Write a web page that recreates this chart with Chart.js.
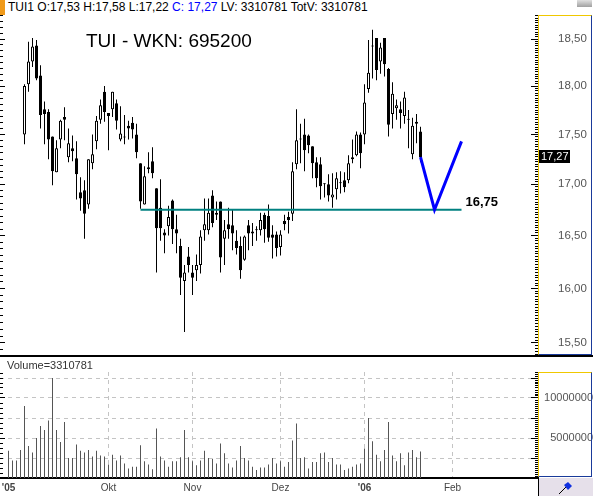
<!DOCTYPE html>
<html>
<head>
<meta charset="utf-8">
<script src="https://cdn.jsdelivr.net/npm/chart.js@4.4.0/dist/chart.umd.min.js"></script>
<style>
  body { margin: 0; background: #fff; font-family: "Liberation Sans", Arial, sans-serif; }
  #wrap { position: relative; width: 593px; height: 496px; overflow: hidden; background: #fff; }
  .abs { position: absolute; }
  #hdr { left: 0; top: 0; height: 15px; font-size: 12px; line-height: 14px; white-space: nowrap; color: #000; }
  #hdr .tag { display: inline-block; width: 5px; height: 15px; background: #f09a1a; vertical-align: top; margin-right: 3px; }
  #hdr .c { color: #0000ff; }
  #title { left: 86px; top: 31px; font-size: 19px; line-height: 19px; color: #000; white-space: nowrap; }
  #sep { left: 0; top: 355px; width: 593px; height: 2px; background: #000; }
  #volLbl { left: 7px; top: 359px; font-size: 11px; line-height: 12px; color: #333; }
  .box { border-left: 1px solid #f0c800; border-top: 1px solid #f0c800; border-right: 1px solid #1a3a9a; border-bottom: 1px solid #1a3a9a; }
  #pbox { left: 538px; top: 15px; width: 52px; height: 338px; }
  #vbox { left: 538px; top: 372px; width: 52px; height: 103px; }
  #corner { left: 538px; top: 478px; width: 54px; height: 18px; background: #e6e0ea; border-left: 1px solid #000; }
  #btn { left: 577px; top: 0; width: 15px; height: 7px; background: linear-gradient(#e0e0e0, #a0a0a0); }
</style>
</head>
<body>
<div id="wrap">
  <div id="hdr" class="abs"><span class="tag"></span><span id="hdrText"></span></div>
  <div id="btn" class="abs"></div>
  <canvas id="price" class="abs" width="593" height="340" style="left:0;top:15px"></canvas>
  <div id="title" class="abs">TUI - WKN: 695200</div>
  <div id="sep" class="abs"></div>
  <canvas id="vol" class="abs" width="593" height="139" style="left:0;top:357px"></canvas>
  <div id="volLbl" class="abs"></div>
  <div id="pbox" class="abs box"></div>
  <div id="vbox" class="abs box"></div>
  <div id="corner" class="abs">
    <svg width="54" height="18"><line x1="20" y1="16" x2="28" y2="8" stroke="#000" stroke-width="1"/><path d="M25 7 L29 4 L33 8 L29 12 Z" fill="#1030e0"/></svg>
  </div>
</div>
<script>
// trading day index of first candle (index 0 = first volume bar)
const startIdx = 4;

const opens = [17.50, 18.02, 18.26, 18.43, 18.11, 17.76, 17.73, 17.48, 17.12, 17.45,
  17.68, 17.27, 17.36, 17.26, 16.92, 16.94, 16.80, 17.21, 17.43, 17.65,
  17.94, 17.72, 17.76, 17.82, 17.45, 17.47, 17.59, 17.62, 17.50, 17.21,
  16.80, 17.17, 17.23, 16.96, 16.77, 16.53, 16.59, 16.84, 16.56, 16.40,
  16.07, 16.30, 16.15, 16.17, 16.22, 16.55, 16.55, 16.89, 16.72, 16.83,
  16.47, 16.61, 16.60, 16.45, 16.40, 16.27, 16.60, 16.54, 16.55, 16.55,
  16.70, 16.69, 16.51, 16.51, 16.39, 16.64, 16.68, 16.71, 17.20, 17.45,
  17.50, 17.49, 17.38, 17.22, 17.20, 17.00, 17.00, 16.87, 16.95, 17.01,
  17.04, 17.04, 17.27, 17.29, 17.50, 17.50, 17.97, 18.43, 18.51, 18.26,
  18.51, 18.18, 17.71, 17.77, 17.76, 17.69, 17.66, 17.30, 17.63, 17.53];
const highs = [18.02, 18.47, 18.51, 18.49, 18.22, 17.84, 17.76, 17.48, 17.44, 17.65,
  17.78, 17.56, 17.49, 17.43, 17.07, 17.04, 17.25, 17.50, 17.69, 17.86,
  18.00, 17.72, 17.94, 17.86, 17.79, 17.70, 17.64, 17.68, 17.61, 17.21,
  17.18, 17.32, 17.37, 16.96, 17.05, 16.56, 16.79, 16.85, 16.70, 16.47,
  16.22, 16.39, 16.22, 16.32, 16.55, 16.86, 16.86, 16.94, 16.83, 16.83,
  16.65, 16.77, 16.75, 16.55, 16.49, 16.50, 16.65, 16.62, 16.59, 16.72,
  16.72, 16.80, 16.60, 16.54, 16.55, 16.70, 16.73, 17.22, 17.76, 17.61,
  17.66, 17.50, 17.38, 17.27, 17.27, 17.01, 17.10, 17.11, 17.12, 17.13,
  17.12, 17.29, 17.45, 17.53, 17.52, 18.02, 18.49, 18.60, 18.51, 18.46,
  18.51, 18.19, 18.04, 17.86, 17.84, 17.94, 17.75, 17.67, 17.71, 17.58];
const lows = [17.40, 17.94, 18.20, 18.06, 17.56, 17.40, 17.25, 16.99, 17.12, 17.36,
  17.44, 17.22, 17.23, 16.85, 16.74, 16.47, 16.76, 17.15, 17.35, 17.61,
  17.63, 17.34, 17.68, 17.55, 17.43, 17.40, 17.45, 17.46, 17.26, 16.76,
  16.80, 17.11, 17.06, 16.15, 16.45, 16.33, 16.50, 16.42, 16.33, 15.94,
  15.60, 16.15, 15.94, 16.07, 16.14, 16.45, 16.51, 16.58, 16.65, 16.15,
  16.22, 16.47, 16.36, 16.32, 16.09, 16.26, 16.36, 16.40, 16.45, 16.50,
  16.43, 16.44, 16.28, 16.30, 16.31, 16.55, 16.52, 16.64, 17.15, 17.21,
  17.13, 17.31, 17.06, 16.97, 16.85, 16.87, 16.83, 16.77, 16.85, 16.91,
  16.92, 17.01, 17.21, 17.28, 17.16, 17.40, 17.93, 18.08, 18.06, 18.13,
  18.10, 17.48, 17.56, 17.65, 17.56, 17.61, 17.36, 17.25, 17.41, 17.22];
const closes = [18.00, 18.26, 18.42, 18.08, 17.70, 17.71, 17.45, 17.13, 17.36, 17.64,
  17.65, 17.41, 17.33, 17.10, 16.86, 16.71, 17.25, 17.30, 17.64, 17.80,
  17.73, 17.69, 17.94, 17.64, 17.51, 17.47, 17.56, 17.55, 17.32, 16.83,
  17.08, 17.15, 17.11, 16.57, 16.57, 16.50, 16.68, 16.56, 16.52, 16.10,
  16.15, 16.22, 16.10, 16.22, 16.49, 16.61, 16.72, 16.62, 16.70, 16.29,
  16.55, 16.56, 16.52, 16.38, 16.17, 16.49, 16.52, 16.52, 16.56, 16.65,
  16.56, 16.48, 16.48, 16.38, 16.51, 16.61, 16.65, 17.13, 17.44, 17.45,
  17.34, 17.39, 17.21, 17.06, 16.98, 17.00, 16.89, 16.90, 17.06, 17.01,
  16.97, 17.21, 17.25, 17.50, 17.31, 17.83, 18.14, 18.42, 18.17, 18.41,
  18.23, 17.60, 17.92, 17.80, 17.72, 17.88, 17.65, 17.59, 17.61, 17.27];

const volumes = [3400000, 2200000, 2200000, 3500000, 9000000, 4000000, 3200000, 5000000, 6500000, 6000000,
  7200000, 12500000, 6000000, 4500000, 7000000, 2500000, 2500000, 4200000, 3400000, 3200000,
  3500000, 2700000, 3400000, 2800000, 2700000, 1700000, 2900000, 2200000, 2800000, 1800000,
  1200000, 1400000, 1400000, 4100000, 2100000, 1700000, 1100000, 6200000, 2700000, 2200000,
  1400000, 2100000, 2100000, 2600000, 6000000, 2600000, 2100000, 1600000, 2200000, 3400000,
  2500000, 2400000, 1800000, 4300000, 3100000, 1800000, 1300000, 2200000, 4000000, 2500000,
  2200000, 1400000, 1000000, 1300000, 1300000, 1700000, 2500000, 1800000, 2100000, 1400000,
  2000000, 4700000, 6800000, 2500000, 2600000, 1200000, 2000000, 2000000, 3100000, 3200000,
  2000000, 2500000, 1700000, 1700000, 1000000, 1200000, 1400000, 1700000, 1800000, 3700000,
  7500000, 4600000, 2900000, 2100000, 3500000, 7000000, 2800000, 2100000, 3100000, 1600000,
  3200000, 3500000, 2600000, 3310781];

const monthIdx = [0, 25, 46, 68, 89, 111];
const monthLabels = ["'05", "Okt", "Nov", "Dez", "'06", "Feb"];
const priceTicks = [15.5, 16, 16.5, 17, 17.5, 18, 18.5];
const volTicks = [2500000, 5000000, 7500000, 10000000, 12500000];
const volLabelTicks = [5000000, 10000000];

// drawn support line and projected V
const supportLevel = 16.75;
const supportFrom = 33;
const projX = [103, 106.5, 113.25];
const projY = [17.27, 16.75, 17.43];

// axis ranges (4 px per trading day, log price scale)
const xMin = -2.125, xMax = 132.375;
const pMin = 15.3918, pMax = 18.7603;
const vMax = 13250000;

function fmt(v) { return v.toFixed(2).replace('.', ','); }

function steps(from, to, step) {
  var out = [];
  for (var v = from; v <= to + 1e-9; v += step) out.push(+v.toFixed(4));
  return out;
}

function fitTo(size) {
  return function(scale) {
    if (scale.isHorizontal()) scale.height = size; else scale.width = size;
    scale.paddingTop = 0; scale.paddingBottom = 0;
    scale.paddingLeft = 0; scale.paddingRight = 0;
  };
}

function tickAxis(type, pos, weight, min, max, values, len) {
  return {
    type: type, position: pos, weight: weight, min: min, max: max, bounds: 'data',
    afterBuildTicks: function(s) { s.ticks = values.map(function(v) { return {value: v}; }); },
    ticks: {display: false, autoSkip: false},
    grid: {drawOnChartArea: false, tickLength: len, color: '#000'},
    border: {display: false},
    afterFit: fitTo(0)
  };
}

var last = opens.length - 1;
document.getElementById('hdrText').innerHTML =
  'TUI1 O:' + fmt(opens[last]) + ' H:' + fmt(highs[last]) + ' L:' + fmt(lows[last]) +
  ' <span class="c">C: ' + fmt(closes[last]) + '</span> LV: ' + volumes[volumes.length - 1] +
  ' TotV: ' + volumes[volumes.length - 1];
document.getElementById('volLbl').textContent = 'Volume=' + volumes[volumes.length - 1];

var wicks = [], bodies = [];
for (var i = 0; i < opens.length; i++) {
  wicks.push({x: startIdx + i, y: [lows[i], highs[i]]});
  bodies.push({x: startIdx + i, y: [opens[i], closes[i]]});
}

const priceMarks = {
  id: 'priceMarks',
  afterDatasetsDraw(chart) {
    var ctx = chart.ctx, xs = chart.scales.x, ys = chart.scales.y;
    ctx.save();
    ctx.fillStyle = '#000';
    ctx.font = 'bold 13px "Liberation Sans"';
    ctx.textBaseline = 'alphabetic';
    ctx.fillText(fmt(supportLevel), xs.getPixelForValue(projX[2]) + 4, ys.getPixelForValue(supportLevel) - 4);

    var lc = closes[closes.length - 1];
    var py = Math.round(ys.getPixelForValue(lc));
    ctx.fillRect(chart.chartArea.right + 1, py - 7, 31, 13);
    ctx.fillStyle = '#fff';
    ctx.font = '11px "Liberation Sans"';
    ctx.textBaseline = 'middle';
    ctx.fillText(fmt(lc), chart.chartArea.right + 3, py);
    ctx.restore();
  }
};

new Chart(document.getElementById('price'), {
  type: 'bar',
  data: {
    datasets: [
      {type: 'line', data: projX.map(function(v, k) { return {x: v, y: projY[k]}; }),
        borderColor: '#0000ff', borderWidth: 3, pointRadius: 0, tension: 0, order: 0, xAxisID: 'x', yAxisID: 'y'},
      {type: 'line', data: [{x: supportFrom, y: supportLevel}, {x: projX[2], y: supportLevel}],
        borderColor: '#008080', borderWidth: 2, pointRadius: 0, order: 1, xAxisID: 'x', yAxisID: 'y'},
      {data: bodies, barThickness: 3, borderWidth: 1, borderColor: '#000', borderSkipped: false,
        inflateAmount: 0, minBarLength: 1, grouped: false, order: 2, xAxisID: 'x', yAxisID: 'y',
        backgroundColor: function(c) { return closes[c.dataIndex] > opens[c.dataIndex] ? '#fff' : '#000'; }},
      {data: wicks, barThickness: 1, borderWidth: 0, backgroundColor: '#000', inflateAmount: 0,
        grouped: false, order: 3, xAxisID: 'x', yAxisID: 'y'}
    ]
  },
  options: {
    responsive: false, animation: false, events: [],
    layout: {padding: 0},
    plugins: {legend: {display: false}, tooltip: {enabled: false}},
    scales: {
      x: {type: 'linear', min: xMin, max: xMax, bounds: 'data', offset: false, grid: {offset: false}, display: false},
      y: {
        type: 'logarithmic', position: 'right', weight: 1, min: pMin, max: pMax, bounds: 'data',
        afterBuildTicks: function(s) { s.ticks = priceTicks.map(function(v) { return {value: v}; }); },
        ticks: {autoSkip: false, crossAlign: 'near', padding: 27, color: '#555',
          font: {family: 'Liberation Sans', size: 11.5}, callback: function(v) { return fmt(v); }},
        grid: {drawOnChartArea: false, tickLength: -7, color: '#000'},
        border: {display: false},
        afterFit: fitTo(55)
      },
      yMinorR: tickAxis('logarithmic', 'right', 0, pMin, pMax, steps(15.4, 18.75, 0.025), -3),
      yMajorL: tickAxis('logarithmic', 'left', 1, pMin, pMax, priceTicks, -5),
      yMinorL: tickAxis('logarithmic', 'left', 0, pMin, pMax, steps(15.4375, 18.75, 0.0625), -3)
    }
  },
  plugins: [priceMarks]
});

new Chart(document.getElementById('vol'), {
  type: 'bar',
  data: {
    datasets: [{
      data: volumes.map(function(v, k) { return {x: k, y: v}; }),
      barThickness: 1, borderWidth: 0, backgroundColor: '#555', inflateAmount: 0, grouped: false
    }]
  },
  options: {
    responsive: false, animation: false, events: [],
    layout: {padding: {top: 15}},
    plugins: {legend: {display: false}, tooltip: {enabled: false}},
    scales: {
      x: {
        type: 'linear', position: 'bottom', min: xMin, max: xMax, bounds: 'data', offset: false,
        afterBuildTicks: function(s) { s.ticks = monthIdx.map(function(v) { return {value: v}; }); },
        ticks: {autoSkip: false, maxRotation: 0, padding: 4, color: '#444',
          font: function(c) { return {family: 'Liberation Sans', size: 10, weight: (c.index === 0 || c.index === 4) ? 'bold' : 'normal'}; },
          callback: function(v, k) { return monthLabels[k]; }},
        grid: {offset: false, drawTicks: false, color: function(c) { return c.index === 0 ? 'rgba(0,0,0,0)' : '#c4c4c4'; }},
        border: {display: true, color: '#000', width: 2, dash: [4, 4]},
        afterFit: fitTo(18)
      },
      y: {
        position: 'right', weight: 1, min: 0, max: vMax, bounds: 'data',
        afterBuildTicks: function(s) { s.ticks = volTicks.map(function(v) { return {value: v}; }); },
        ticks: {autoSkip: false, crossAlign: 'far', padding: 7, color: '#555',
          font: {family: 'Liberation Sans', size: 11},
          callback: function(v) { return volLabelTicks.indexOf(v) >= 0 ? String(v) : ''; }},
        grid: {drawOnChartArea: true, color: '#c4c4c4', tickColor: '#000', tickLength: -7},
        border: {display: false, dash: [4, 4]},
        afterFit: fitTo(55)
      },
      yMinorR: tickAxis('linear', 'right', 0, 0, vMax, steps(0, 13250000, 250000), -3),
      yMajorL: tickAxis('linear', 'left', 1, 0, vMax, volLabelTicks, -5),
      yMinorL: tickAxis('linear', 'left', 0, 0, vMax, steps(625000, 13125000, 625000), -3)
    }
  }
});
</script>
</body>
</html>
